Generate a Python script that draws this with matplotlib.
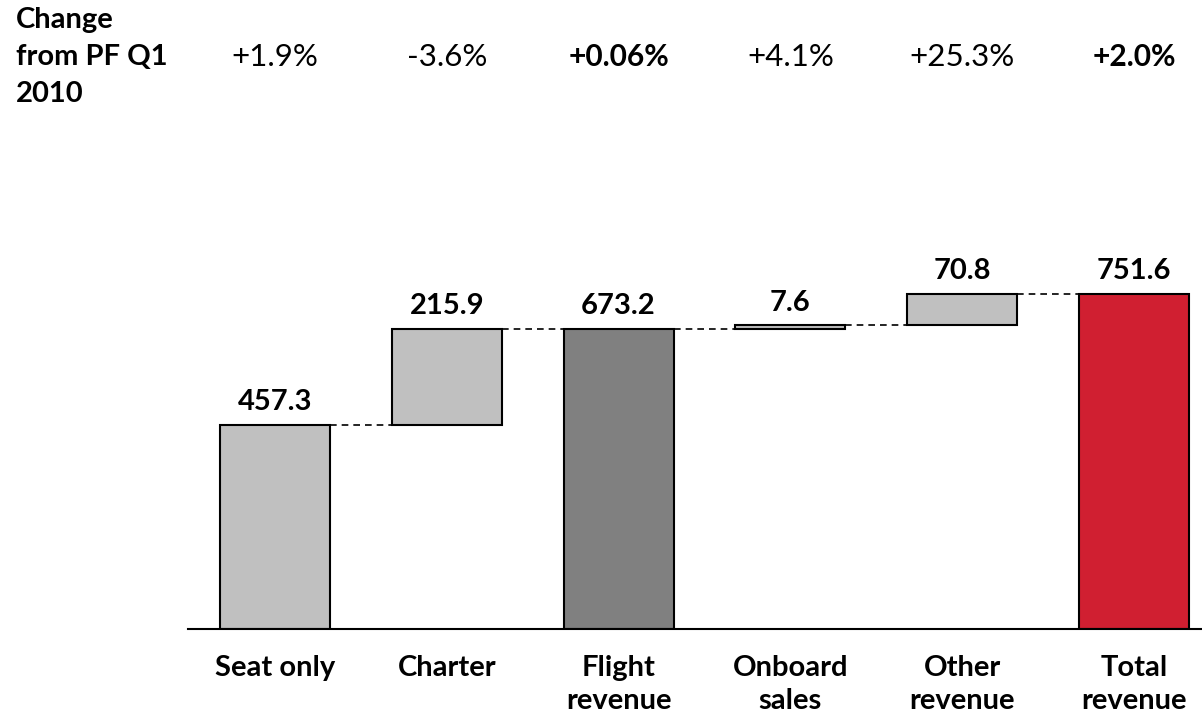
import matplotlib
matplotlib.use("Agg")
import matplotlib.pyplot as plt

plt.rcParams['font.family'] = ['Lato', 'DejaVu Sans']

# Revenue bridge (EUR m)
categories = ["Seat only", "Charter", "Flight\nrevenue", "Onboard\nsales", "Other\nrevenue", "Total\nrevenue"]
values = [457.3, 215.9, 673.2, 7.6, 70.8, 751.6]
is_total = [False, False, True, False, False, True]
changes = ["+1.9%", "-3.6%", "+0.06%", "+4.1%", "+25.3%", "+2.0%"]
change_bold = [False, False, True, False, False, True]

LIGHT = "#C0C0C0"
DARK = "#808080"
RED = "#D01F31"
bar_colors = [LIGHT, LIGHT, DARK, LIGHT, LIGHT, RED]

fig = plt.figure(figsize=(12.02, 7.2), dpi=100)
W, H = 1202, 720
ax = fig.add_axes([188 / W, (H - 629) / H, (1202 - 188) / W, 529 / H])

# Waterfall: increments float on the running total, totals start at zero
bottoms = []
running = 0.0
for v, tot in zip(values, is_total):
    if tot:
        bottoms.append(0.0)
        running = v
    else:
        bottoms.append(running)
        running += v

x = list(range(len(values)))
bar_w = 0.64
ax.bar(x, values, bottom=bottoms, width=bar_w, color=bar_colors,
       edgecolor="black", linewidth=1.5, zorder=3)

# Dashed connectors between consecutive bars
for i in range(len(values) - 1):
    level = bottoms[i] + values[i]
    ax.plot([i + bar_w / 2, i + 1 - bar_w / 2], [level, level],
            color="black", linestyle=(0, (4, 3)), linewidth=1.2, zorder=2)

# Value labels above each bar
for i, v in enumerate(values):
    ax.text(i, bottoms[i] + v + 22, f"{v:.1f}", ha="center", va="bottom",
            fontsize=21, fontweight="bold", color="black")

ax.set_xlim(-0.506, 5.396)
ax.set_ylim(0, 1186)
for s in ["top", "right", "left"]:
    ax.spines[s].set_visible(False)
ax.spines["bottom"].set_linewidth(1.5)
ax.spines["bottom"].set_zorder(4)
ax.set_yticks([])
ax.set_xticks(x)
ax.set_xticklabels(categories, fontsize=21, fontweight="bold", linespacing=1.3)
ax.tick_params(axis="x", length=0, pad=19)

# Header row with change vs. prior period
fig.text(16 / W, 1 - 7 / H, "Change\nfrom PF Q1\n2010", ha="left", va="top",
         fontsize=21, fontweight="bold", linespacing=1.52)
for i, (c, b) in enumerate(zip(changes, change_bold)):
    xd = ax.transData.transform((i, 0))[0]
    fig.text(xd / W, 1 - 57 / H, c, ha="center", va="center",
             fontsize=21.5 if b else 22.5,
             fontweight="bold" if b else "normal")

fig.savefig("out.png", dpi=100)
